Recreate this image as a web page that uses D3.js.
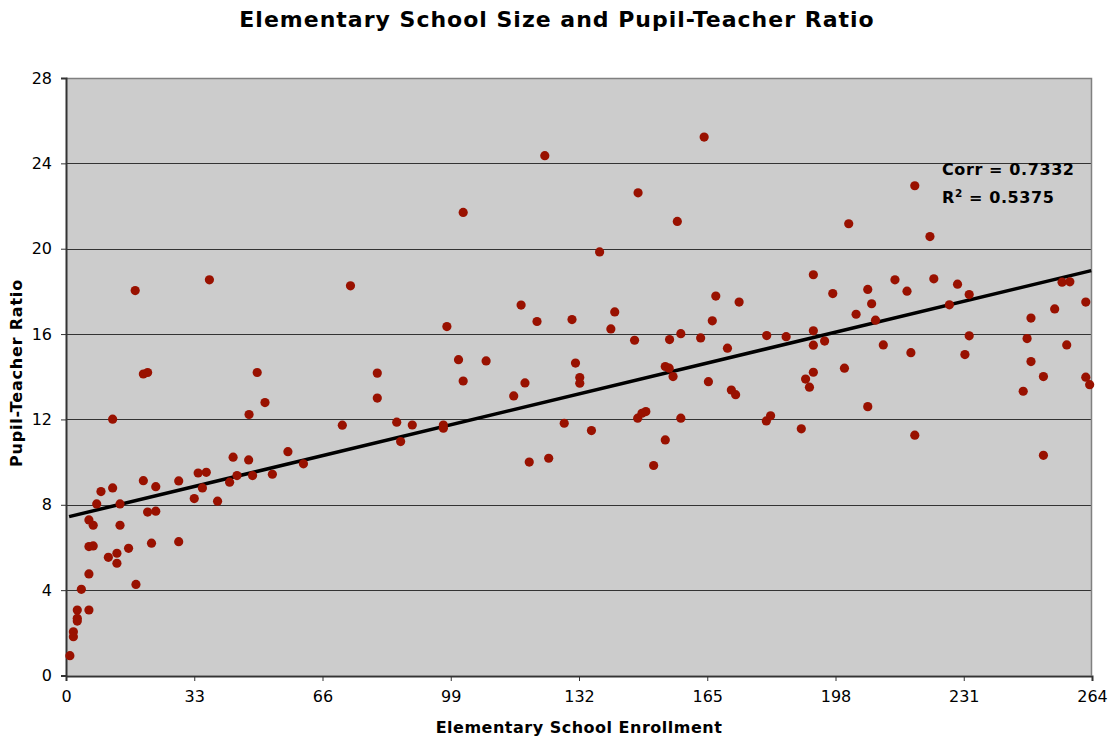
<!DOCTYPE html>
<html>
<head>
<meta charset="utf-8">
<script src="https://cdn.jsdelivr.net/npm/d3@7"></script>
<style>
  body { margin: 0; background: #fff; }
  text { font-family: "DejaVu Sans", Verdana, sans-serif; }
</style>
</head>
<body>
<div id="chart"></div>
<script>
// enrollment (x) and pupil-teacher ratio (y)
const enrollment = [
  1.0, 1.9, 1.9, 2.9, 2.9, 2.9, 3.95, 5.9, 5.9, 5.9, 7.0, 5.9, 7.0, 7.9, 9.0, 10.9,
  12.0, 12.0, 13.1, 13.1, 13.9, 13.9, 16.1, 17.8, 18.0, 19.9, 19.9, 21.0, 21.0, 22.0,
  23.1, 23.1, 29.0, 29.0, 33.0, 34.0, 35.1, 36.1, 36.9, 39.0, 42.1, 43.0, 44.0, 47.0,
  47.1, 48.0, 49.2, 51.2, 53.1, 57.1, 61.1, 71.1, 73.2, 80.1, 80.1, 85.1, 86.1, 89.1,
  97.1, 97.1, 98.0, 101.0, 102.2, 102.2, 108.1, 115.2, 117.1, 118.1, 119.2, 121.2,
  123.2, 124.2, 128.2, 130.2, 131.1, 132.2, 132.2, 135.2, 137.3, 140.2, 141.2, 146.3,
  147.2, 147.1, 148.2, 149.2, 151.2, 154.2, 155.2, 154.2, 155.3, 156.2, 157.3, 158.2,
  158.2, 163.3, 164.2, 165.3, 166.3, 167.2, 170.2, 171.2, 172.3, 173.2, 180.2, 181.3,
  180.3, 185.3, 189.2, 190.3, 191.3, 192.3, 192.3, 192.3, 192.3, 195.2, 197.3, 200.3,
  201.4, 203.3, 206.3, 206.3, 207.3, 208.3, 210.3, 213.3, 216.4, 217.4, 218.4, 218.4,
  222.3, 223.3, 227.3, 229.4, 231.3, 232.4, 232.4, 246.3, 247.3, 248.3, 248.3, 251.5,
  251.5, 254.4, 256.3, 258.3, 257.5, 262.4, 262.4, 263.4
];
const ratio = [
  0.93, 2.05, 1.82, 3.07, 2.68, 2.55, 4.04, 3.07, 4.76, 6.04, 6.07, 7.29, 7.04, 8.04, 8.62, 5.54,
  12.01, 8.79, 5.73, 5.26, 8.04, 7.04, 5.96, 18.04, 4.27, 14.13, 9.13, 14.2, 7.66, 6.2,
  7.7, 8.85, 9.12, 6.27, 8.29, 9.49, 8.79, 9.52, 18.54, 8.17, 9.06, 10.23, 9.37, 10.1,
  12.23, 9.37, 14.2, 12.79, 9.43, 10.49, 9.92, 11.73, 18.26, 14.17, 13.0, 11.87, 10.96, 11.74,
  11.74, 11.59, 16.35, 14.8, 21.7, 13.8, 14.74, 13.1, 17.36, 13.71, 10.0, 16.59,
  24.36, 10.18, 11.82, 16.68, 14.64, 13.96, 13.7, 11.48, 19.85, 16.24, 17.04, 15.71,
  22.62, 12.06, 12.29, 12.37, 9.84, 14.48, 14.4, 11.04, 15.74, 14.01, 21.28, 16.02,
  12.06, 15.82, 25.23, 13.77, 16.62, 17.78, 15.34, 13.38, 13.16, 17.5, 11.93, 12.17,
  15.93, 15.88, 11.56, 13.89, 13.51, 18.78, 16.15, 15.48, 14.21, 15.67, 17.9, 14.4,
  21.17, 16.93, 18.09, 12.6, 17.42, 16.65, 15.49, 18.54, 18.01, 15.13, 22.95, 11.26,
  20.57, 18.59, 17.37, 18.34, 15.04, 17.85, 15.92, 13.32, 15.79, 16.75, 14.71, 14.01,
  10.32, 17.18, 18.43, 18.45, 15.49, 17.5, 13.98, 13.63
];

const xTicks = [0, 33, 66, 99, 132, 165, 198, 231, 264];
const yTicks = [0, 4, 8, 12, 16, 20, 24, 28];

// trend line as drawn in the chart
const trendIntercept = 7.41, trendSlope = 0.04384;
const trendRange = [0.8, 263.8];
const statLines = ["Corr = 0.7332", "R2 = 0.5375"];

const width = 1112, height = 738;
const plotLeft = 66, plotRight = 1092, plotTop = 78, plotBottom = 675.5;

const svg = d3.select("#chart").append("svg")
    .attr("width", width)
    .attr("height", height);

const x = d3.scaleLinear().domain([0, 264]).range([plotLeft, plotRight]);
const y = d3.scaleLinear().domain([0, 28]).range([plotBottom, plotTop]);

// plot background
svg.append("rect")
    .attr("x", plotLeft).attr("y", plotTop)
    .attr("width", plotRight - plotLeft).attr("height", plotBottom - plotTop)
    .attr("fill", "#CCCCCC");

// grid lines
svg.append("g")
    .selectAll("line")
    .data(yTicks.filter(d => d > 0 && d < 28))
    .enter()
    .append("line")
    .attr("x1", plotLeft).attr("x2", plotRight)
    .attr("y1", d => Math.round(y(d)) + 0.5)
    .attr("y2", d => Math.round(y(d)) + 0.5)
    .attr("stroke", "#333333")
    .attr("stroke-width", 1);

// top and right border
svg.append("path")
    .attr("d", `M${plotLeft},${plotTop + 0.5}H${plotRight - 0.5}V${plotBottom}`)
    .attr("fill", "none")
    .attr("stroke", "#808080")
    .attr("stroke-width", 1.5);

// axes
const xAxis = svg.append("g")
    .attr("transform", `translate(0,${Math.round(plotBottom)})`)
    .call(d3.axisBottom(x).tickValues(xTicks).tickSize(5).tickPadding(10));
const yAxis = svg.append("g")
    .attr("transform", `translate(${plotLeft},0)`)
    .call(d3.axisLeft(y).tickValues(yTicks).tickSize(5).tickPadding(9));

[xAxis, yAxis].forEach(function(a) {
    a.select(".domain").attr("stroke", "#333333").attr("stroke-width", 2);
    a.selectAll(".tick line").attr("stroke", "#333333");
    a.selectAll(".tick text")
        .attr("font-family", "DejaVu Sans, Verdana, sans-serif")
        .attr("font-size", 16)
        .attr("fill", "#000");
});

// trend line
svg.append("line")
    .attr("x1", x(trendRange[0])).attr("y1", y(trendIntercept + trendSlope * trendRange[0]))
    .attr("x2", x(trendRange[1])).attr("y2", y(trendIntercept + trendSlope * trendRange[1]))
    .attr("stroke", "#000")
    .attr("stroke-width", 3.5);

// points
svg.append("g")
    .selectAll("circle")
    .data(enrollment.map((d, i) => [d, ratio[i]]))
    .enter()
    .append("circle")
    .attr("cx", d => x(d[0]))
    .attr("cy", d => y(d[1]))
    .attr("r", 4.6)
    .attr("fill", "#991100");

// stats annotation
const stats = svg.append("g")
    .attr("font-size", 16)
    .attr("font-weight", "bold")
    .attr("letter-spacing", 0.6)
    .attr("fill", "#000");
stats.append("text").attr("x", 942).attr("y", 175).text(statLines[0]);
const r2 = stats.append("text").attr("x", 942).attr("y", 203);
r2.append("tspan").text("R");
r2.append("tspan").attr("font-size", 10.5).attr("dy", -6.5).text("2");
r2.append("tspan").attr("dy", 6.5).text(" = 0.5375");

// title
svg.append("text")
    .attr("x", 557).attr("y", 27)
    .attr("text-anchor", "middle")
    .attr("font-size", 22)
    .attr("font-weight", "bold")
    .attr("letter-spacing", 1)
    .text("Elementary School Size and Pupil-Teacher Ratio");

// axis titles
svg.append("text")
    .attr("x", 579).attr("y", 733)
    .attr("text-anchor", "middle")
    .attr("font-size", 16)
    .attr("font-weight", "bold")
    .attr("letter-spacing", 0.5)
    .text("Elementary School Enrollment");

svg.append("text")
    .attr("transform", "translate(22,373) rotate(-90)")
    .attr("text-anchor", "middle")
    .attr("font-size", 16)
    .attr("font-weight", "bold")
    .attr("letter-spacing", 0.8)
    .text("Pupil-Teacher Ratio");
</script>
</body>
</html>
